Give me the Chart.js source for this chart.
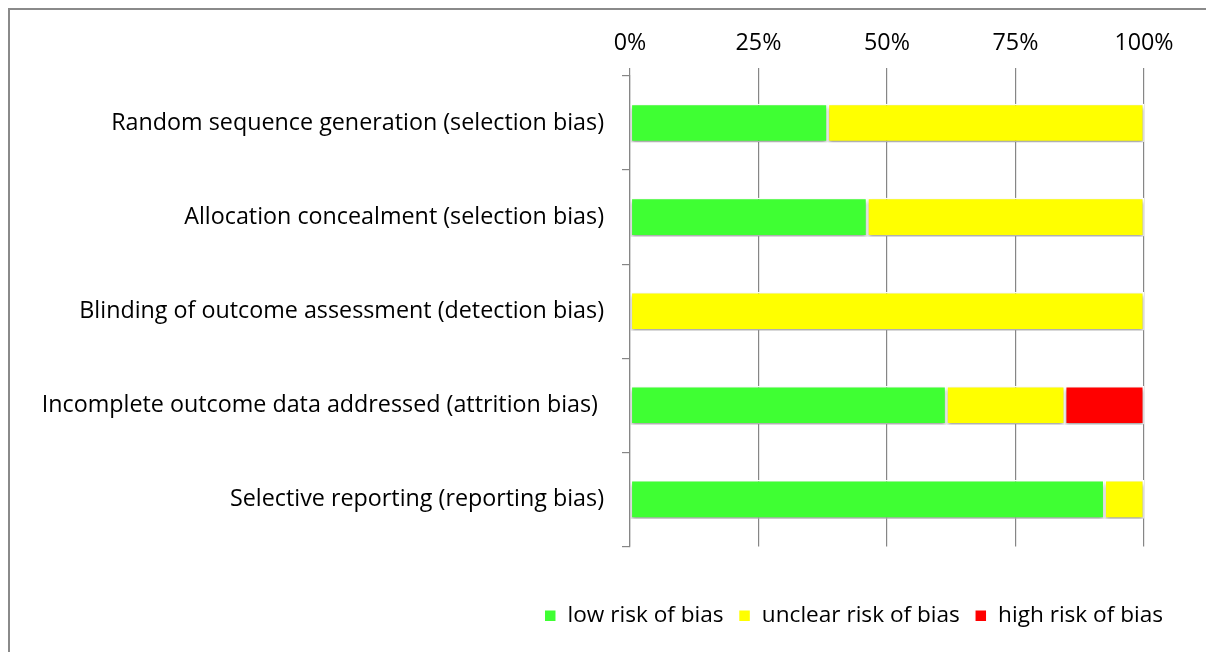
<!DOCTYPE html>
<html>
<head>
<meta charset="utf-8">
<script src="https://cdn.jsdelivr.net/npm/chart.js@4"></script>
<style>
  html, body { margin: 0; padding: 0; background: #fff; }
  #wrap { position: relative; width: 1206px; height: 652px; overflow: hidden; }
  #frame { position: absolute; left: 8px; top: 8px; width: 1400px; height: 900px;
           border-left: 2px solid #8a8a8a; border-top: 2px solid #8a8a8a; }
  #riskChart { position: absolute; left: 0; top: 0; }
</style>
</head>
<body>
<div id="wrap">
  <div id="frame"></div>
  <canvas id="riskChart" width="1206" height="652"></canvas>
</div>
<script>
// domains of the risk of bias tool
const categories = [
    'Random sequence generation (selection bias)',
    'Allocation concealment (selection bias)',
    'Blinding of outcome assessment (detection bias)',
    'Incomplete outcome data addressed (attrition bias) ',
    'Selective reporting (reporting bias)'
];
// percent of studies per judgement
const lowRisk = [38.46, 46.15, 0, 61.54, 92.31];
const unclearRisk = [61.54, 53.85, 100, 23.08, 7.69];
const highRisk = [0, 0, 0, 15.38, 0];
const tickLabels = ['0%', '25%', '50%', '75%', '100%'];

const fontFamily = '"Open Sans", "Noto Sans", sans-serif';
const fontSize = 23.3;
const legendFontSize = 22.6;
const gridGray = '#868686';

// soft shadow under the bars, like the office chart
const barShadow = {
    id: 'barShadow',
    beforeDatasetsDraw(chart) {
        const c = chart.ctx;
        c.save();
        c.shadowColor = 'rgba(0,0,0,0.35)';
        c.shadowBlur = 4;
        c.shadowOffsetX = 0;
        c.shadowOffsetY = 3;
    },
    afterDatasetsDraw(chart) {
        chart.ctx.restore();
    }
};

// move the legend to where it sits in the picture
const legendNudge = {
    id: 'legendNudge',
    afterLayout(chart) {
        const lg = chart.legend;
        lg.left += 34; lg.right += 34;
        lg.top += 43; lg.bottom += 43;
    }
};

const ctx = document.getElementById('riskChart').getContext('2d');
const riskChart = new Chart(ctx, {
    type: 'bar',
    data: {
        labels: categories,
        datasets: [
            { label: 'low risk of bias', data: lowRisk, backgroundColor: '#3fff33' },
            { label: 'unclear risk of bias', data: unclearRisk, backgroundColor: '#ffff00' },
            { label: 'high risk of bias', data: highRisk, backgroundColor: '#ff0000' }
        ]
    },
    options: {
        indexAxis: 'y',
        responsive: false,
        animation: false,
        devicePixelRatio: 1,
        datasets: {
            bar: {
                categoryPercentage: 1,
                barPercentage: 0.41,
                borderColor: '#ffffff',
                borderWidth: 1.5,
                borderSkipped: false
            }
        },
        layout: { padding: { left: 0, right: 62, top: 0, bottom: 58 } },
        scales: {
            x: {
                position: 'top',
                stacked: true,
                min: 0,
                max: 100,
                ticks: {
                    stepSize: 25,
                    color: '#000',
                    padding: 11,
                    font: { family: fontFamily, size: fontSize },
                    callback: (v) => tickLabels[v / 25]
                },
                grid: { color: gridGray, lineWidth: 1.2, tickLength: 8, drawTicks: true },
                border: { display: false },
                afterFit: (s) => { s.height = 76; }
            },
            y: {
                stacked: true,
                offset: true,
                ticks: {
                    color: '#000',
                    padding: 18,
                    font: { family: fontFamily, size: fontSize }
                },
                grid: { offset: true, drawOnChartArea: false, color: gridGray, lineWidth: 1.2, tickLength: 8 },
                border: { display: true, color: gridGray, width: 1.2 },
                afterFit: (s) => { s.width = 630; }
            }
        },
        plugins: {
            legend: {
                position: 'bottom',
                align: 'end',
                labels: {
                    boxWidth: 12,
                    boxHeight: 12,
                    padding: 15,
                    color: '#000',
                    font: { family: fontFamily, size: legendFontSize }
                }
            },
            tooltip: { enabled: false }
        }
    },
    plugins: [barShadow, legendNudge]
});
</script>
</body>
</html>
